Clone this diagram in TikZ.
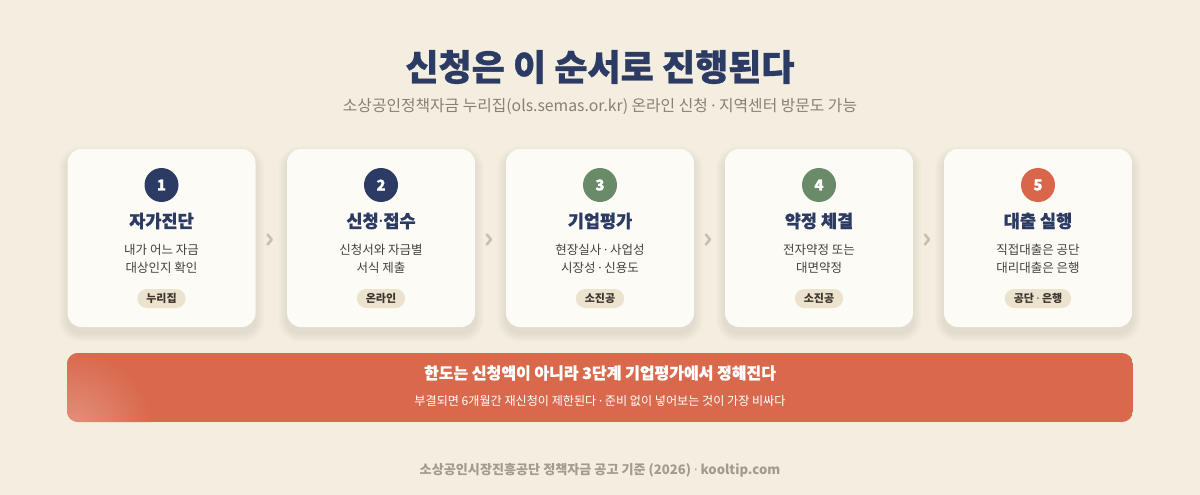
\documentclass[tikz,border=0pt]{standalone}
\usepackage{fontspec}
\setmainfont{Noto Sans CJK KR}
\newfontfamily\heavy{Noto Sans CJK KR}[BoldFeatures={FakeBold=0.8}]
\newfontfamily\latinf{Noto Sans}
\newcommand\mdot{{\latinf ·}}
\usetikzlibrary{calc}
\pgfdeclarelayer{bgl}
\pgfdeclarelayer{shadowl}
\pgfsetlayers{bgl,shadowl,main}
\definecolor{bg}{HTML}{F4EEE0}
\definecolor{cardbg}{HTML}{FDFBF5}
\definecolor{navy}{HTML}{2B3B63}
\definecolor{green}{HTML}{6A8B68}
\definecolor{orange}{HTML}{D9664A}
\definecolor{banner}{HTML}{D9694D}
\definecolor{sub}{HTML}{878073}
\definecolor{desc}{HTML}{46403A}
\definecolor{pillbg}{HTML}{ECE3CF}
\definecolor{pilltx}{HTML}{3A342C}
\definecolor{chev}{HTML}{C8BFAC}
\definecolor{foot}{HTML}{A39C8E}
\newcommand\cardshadow[1]{%
  \foreach \k in {1,...,9}{%
    \fill[black, opacity=0.009, rounded corners=14pt+\k pt]
      ($(#1.south west)+(-\k,\k+6)$) rectangle ($(#1.north east)+(\k,-\k+6)$);}}
\begin{document}
\begin{tikzpicture}[x=1pt,y=-1pt,
  card/.style={fill=cardbg, rounded corners=14pt, minimum width=188pt, minimum height=178pt},
  num/.style={circle, minimum size=34pt, inner sep=0pt, text=white, font=\heavy\bfseries\fontsize{15}{15}\selectfont},
  ctitle/.style={text=navy, font=\heavy\bfseries\fontsize{17.5}{20}\selectfont},
  cdesc/.style={text=desc, align=center, font=\fontsize{12.5}{18}\selectfont},
  pill/.style={fill=pillbg, rounded corners=9.5pt, minimum height=19pt, inner xsep=9pt, inner ysep=0pt, text=pilltx, font=\bfseries\fontsize{11}{11}\selectfont},
  chevline/.style={draw=chev, line width=2.6pt, line cap=round, line join=round}
]
\useasboundingbox (0,0) rectangle (1200,495);
\begin{pgfonlayer}{bgl}
\fill[bg] (0,0) rectangle (1200,495);
\end{pgfonlayer}

\node[text=navy, font=\heavy\bfseries\fontsize{36}{40}\selectfont] (title) at (600,67) {신청은 이 순서로 진행된다};
\node[text=sub, font=\fontsize{15.8}{18}\selectfont] (subtitle) at (600,106) {소상공인정책자금 누리집(ols.semas.or.kr) 온라인 신청 \mdot{} 지역센터 방문도 가능};

% cards
\node[card] (c1) at (161.5,238) {};
\node[card] (c2) at (381,238) {};
\node[card] (c3) at (600,238) {};
\node[card] (c4) at (819,238) {};
\node[card] (c5) at (1038,238) {};
\begin{pgfonlayer}{shadowl}
\cardshadow{c1}\cardshadow{c2}\cardshadow{c3}\cardshadow{c4}\cardshadow{c5}
\end{pgfonlayer}

\node[num, fill=navy] (n1) at (161.5,185) {1};
\node[num, fill=navy] (n2) at (381,185) {2};
\node[num, fill=green] (n3) at (600,185) {3};
\node[num, fill=green] (n4) at (819,185) {4};
\node[num, fill=orange] (n5) at (1038,185) {5};

\node[ctitle] (t1) at (161.5,221) {자가진단};
\node[ctitle] (t2) at (381,221) {신청\mdot{}접수};
\node[ctitle] (t3) at (600,221) {기업평가};
\node[ctitle] (t4) at (819,221) {약정 체결};
\node[ctitle] (t5) at (1038,221) {대출 실행};

\node[cdesc] (d1) at (161.5,259) {내가 어느 자금\\대상인지 확인};
\node[cdesc] (d2) at (381,259) {신청서와 자금별\\서식 제출};
\node[cdesc] (d3) at (600,259) {현장실사 \mdot{} 사업성\\시장성 \mdot{} 신용도};
\node[cdesc] (d4) at (819,259) {전자약정 또는\\대면약정};
\node[cdesc] (d5) at (1038,259) {직접대출은 공단\\대리대출은 은행};

\node[pill] (p1) at (161.5,298.5) {누리집};
\node[pill] (p2) at (381,298.5) {온라인};
\node[pill] (p3) at (600,298.5) {소진공};
\node[pill] (p4) at (819,298.5) {소진공};
\node[pill] (p5) at (1038,298.5) {공단 \mdot{} 은행};

\coordinate (a1) at ($(c1.east)!0.5!(c2.west)+(-1.5,1.5)$);
\coordinate (a2) at ($(c2.east)!0.5!(c3.west)+(-1.5,1.5)$);
\coordinate (a3) at ($(c3.east)!0.5!(c4.west)+(-1.5,1.5)$);
\coordinate (a4) at ($(c4.east)!0.5!(c5.west)+(-1.5,1.5)$);
\foreach \a in {a1,a2,a3,a4}{
  \draw[chevline] ($(\a)+(-2.2,-5)$) -- ($(\a)+(2,0)$) -- ($(\a)+(-2.2,5)$);
}

% banner
\begin{scope}
  \clip[rounded corners=11pt] (67,353) rectangle (1133,422);
  \fill[banner] (67,353) rectangle (1133,422);
  \shade[inner color=banner!72!white, outer color=banner] (72,432) circle (80);
\end{scope}
\node[text=white, font=\heavy\bfseries\fontsize{16}{18}\selectfont] (bt) at (600,373) {한도는 신청액이 아니라 3단계 기업평가에서 정해진다};
\node[text=white, font=\fontsize{12.1}{14}\selectfont] (bs) at (600,401) {부결되면 6개월간 재신청이 제한된다 \mdot{} 준비 없이 넣어보는 것이 가장 비싸다};

\node[text=foot, font=\bfseries\fontsize{13.1}{15}\selectfont] (ft) at (600,470) {소상공인시장진흥공단 정책자금 공고 기준 (2026) \mdot{} kooltip.com};
\end{tikzpicture}
\end{document}
